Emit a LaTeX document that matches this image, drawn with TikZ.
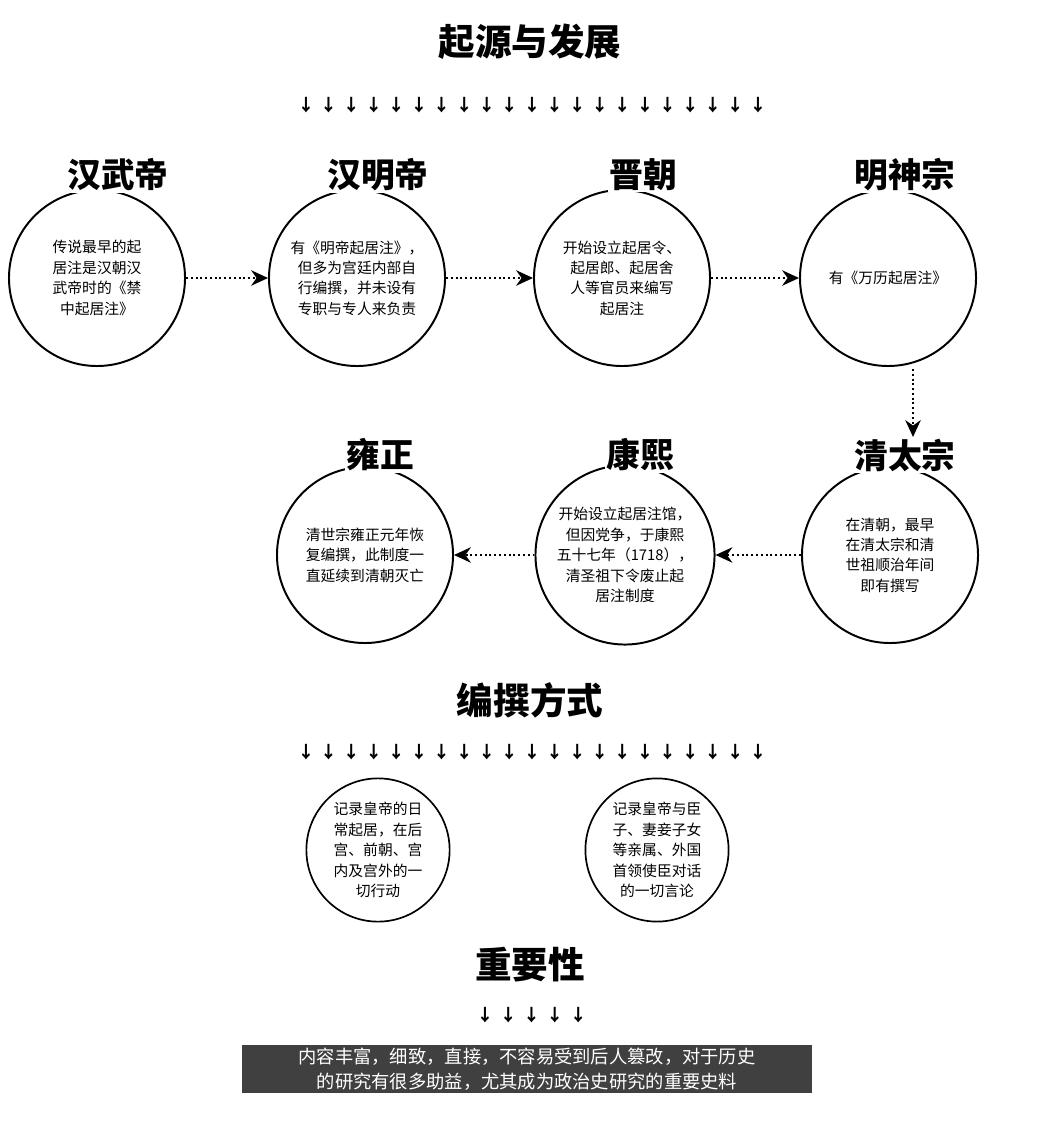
\documentclass[tikz,border=0pt]{standalone}
\usepackage{fontspec}
\setmainfont{Noto Sans CJK SC}
\usetikzlibrary{arrows.meta}
\tikzset{
  era/.style={circle,draw,line width=1.4pt,minimum size=4.4cm,align=center,font=\fontsize{10.5}{14.5}\selectfont},
  small/.style={circle,draw,line width=1.2pt,minimum size=3.2cm,align=center,font=\fontsize{10.5}{14.5}\selectfont},
  heading/.style={font=\bfseries\fontsize{26}{28}\selectfont},
  eraname/.style={font=\bfseries\fontsize{24}{26}\selectfont,fill=white,inner sep=1pt},
  link/.style={dotted,line width=1.4pt,-{Stealth[length=12pt,width=11pt]}},
}
\begin{document}
\begin{tikzpicture}[x=0.025cm,y=-0.025cm]
  \useasboundingbox (0,0) rectangle (1038,1135);
  %% section headings
  \node[heading] (T1) at (530,42)  {起源与发展};
  \node[heading] (T2) at (530,700) {编撰方式};
  \node[heading] (T3) at (530,965) {重要性};
  %% arrow rows
  \foreach \i in {0,...,20} {
    \node[font=\large\bfseries] (A\i) at (306+22.6*\i,105) {↓};
    \node[font=\large\bfseries] (B\i) at (306+22.6*\i,752) {↓};
  }
  \foreach \i in {0,...,4}
    \node[font=\large\bfseries] (C\i) at (485+23.3*\i,1015) {↓};

  %% first row
  \node[era] (WD) at (97,278)  {传说最早的起\\居注是汉朝汉\\武帝时的《禁\\中起居注》};
  \node[era] (MD) at (357,278) {有《明帝起居注》，\\但多为宫廷内部自\\行编撰，并未设有\\专职与专人来负责};
  \node[era] (JC) at (622,278) {开始设立起居令、\\起居郎、起居舍\\人等官员来编写\\起居注};
  \node[era] (SZ) at (888,278) {有《万历起居注》};
  \node[eraname] at (118,175) {汉武帝};
  \node[eraname] at (378,175) {汉明帝};
  \node[eraname] at (643,175) {晋朝};
  \node[eraname] at (905,175) {明神宗};

  %% second row
  \node[era] (TZ) at (890,555) {在清朝，最早\\在清太宗和清\\世祖顺治年间\\即有撰写};
  \node[era] (KX) at (625,555) {开始设立起居注馆，\\但因党争，于康熙\\五十七年（1718），\\清圣祖下令废止起\\居注制度};
  \node[era] (YZ) at (365,555) {清世宗雍正元年恢\\复编撰，此制度一\\直延续到清朝灭亡};
  \node[eraname] (TZN) at (905,455) {清太宗};
  \node[eraname] at (640,455) {康熙};
  \node[eraname] at (380,455) {雍正};

  \draw[link] (WD.east) -- (MD.west);
  \draw[link] (MD.east) -- (JC.west);
  \draw[link] (JC.east) -- (SZ.west);
  \draw[link] (SZ.south) ++(25,2) coordinate (S1) -- (S1 |- TZN.north);
  \draw[link] (TZ.west) -- (KX.east);
  \draw[link] (KX.west) -- (YZ.east);

  %% ways of compiling
  \node[small] (W1) at (378,850) {记录皇帝的日\\常起居，在后\\宫、前朝、宫\\内及宫外的一\\切行动};
  \node[small] (W2) at (657,850) {记录皇帝与臣\\子、妻妾子女\\等亲属、外国\\首领使臣对话\\的一切言论};

  %% importance
  \node[fill=black!75,text=white,align=center,font=\fontsize{13}{18}\selectfont,minimum width=14.25cm,inner sep=2pt] (IM) at (527,1069)
    {内容丰富，细致，直接，不容易受到后人篡改，对于历史\\的研究有很多助益，尤其成为政治史研究的重要史料};
\end{tikzpicture}
\end{document}
